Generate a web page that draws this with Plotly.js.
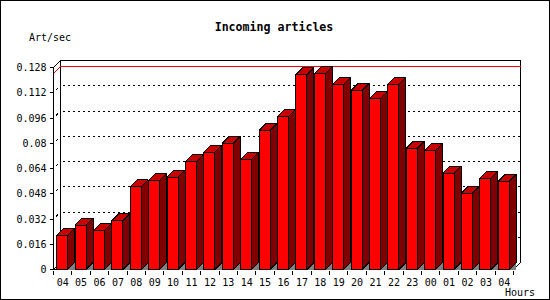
<!DOCTYPE html>
<html>
<head>
<meta charset="utf-8">
<script src="https://cdn.plot.ly/plotly-3.0.1.min.js"></script>
<style>
  html, body { margin: 0; padding: 0; background: #ffffff; }
  #chart { width: 550px; height: 300px; }
  #chart .scatterlayer path, #chart .shapelayer path { shape-rendering: crispEdges; }
</style>
</head>
<body>
<div id="chart"></div>
<script>
// ---- data ----
const hours = ["04","05","06","07","08","09","10","11","12","13","14","15","16","17","18","19","20","21","22","23","00","01","02","03","04"];
const artPerSec = [0.0215,0.0282,0.0246,0.0309,0.0524,0.0566,0.0585,0.0686,0.0743,0.0800,0.0699,0.0882,0.0971,0.1236,0.1242,0.1175,0.1135,0.1084,0.1175,0.0769,0.0756,0.0611,0.0484,0.0579,0.0560];
const yTickVals = [0,0.016,0.032,0.048,0.064,0.08,0.096,0.112,0.128];
const yTickText = ["0","0.016","0.032","0.048","0.064","0.08","0.096","0.112","0.128"];
const titleText = "Incoming articles";
const yUnitText = "Art/sec";
const xUnitText = "Hours";

// ---- geometry (pixels) ----
const L = 52, T = 59, W = 471, H = 213;
const X0 = 53.5, Y0 = 269.5, CW = 18.4, D = 7;
const yTopVal = yTickVals[yTickVals.length - 1];
const PPU = 202 / yTopVal;
const N = hours.length;
const ddx = D / CW, ddy = D / PPU;
const barOff = 3.2 / CW, barW = 11 / CW;
const xRange = [(L - X0) / CW, (L + W - X0) / CW];
const yRange = [(Y0 - (T + H)) / PPU, (Y0 - T) / PPU];

function addPoly(tr, pts) {
  pts.forEach(p => { tr.x.push(p[0]); tr.y.push(p[1]); });
  tr.x.push(pts[0][0]); tr.y.push(pts[0][1]);
  tr.x.push(null); tr.y.push(null);
}
function addLine(tr, pts) {
  pts.forEach(p => { tr.x.push(p[0]); tr.y.push(p[1]); });
  tr.x.push(null); tr.y.push(null);
}
function mk(fill, lc, lw, dash) {
  const t = {type: 'scatter', mode: 'lines', x: [], y: [], hoverinfo: 'skip', showlegend: false,
    line: {color: lc, width: lw, dash: dash || 'solid'}};
  if (fill) { t.fill = 'toself'; t.fillcolor = fill; }
  return t;
}

const frameTr = mk(null, '#000000', 1);
addLine(frameTr, [[ddx, ddy], [ddx, yTopVal + ddy], [N + ddx, yTopVal + ddy], [N + ddx, ddy], [N, 0], [0, 0], [0, yTopVal], [ddx, yTopVal + ddy]]);
addLine(frameTr, [[0, 0], [ddx, ddy]]);

const gridTr = mk(null, '#000000', 1, '2px,3px');
const marksTr = mk(null, '#000000', 1);
yTickVals.forEach(v => {
  if (v > 0 && v < yTopVal) {
    addLine(gridTr, [[ddx + 2.5 / CW, v + ddy], [N + ddx, v + ddy]]);
    addLine(marksTr, [[2.5 / CW, v + 2.5 / PPU], [4.5 / CW, v + 4.5 / PPU]]);
  }
});

const maxVal = Math.max(...artPerSec);
const maxTr = mk(null, '#ff0000', 1);
addLine(maxTr, [[0, maxVal], [ddx, maxVal + ddy], [N + ddx, maxVal + ddy]]);

const floorTr = mk('#808080', 'rgba(0,0,0,0)', 0);
const sideTr = mk('#800000', '#000000', 1);
const frontTr = mk('#ff0000', '#000000', 1);
const topTr = mk('#c80000', '#000000', 1);
artPerSec.forEach((v, i) => {
  const xl = i + barOff, xr = i + barOff + barW;
  addPoly(floorTr, [[xr, 0], [xr + ddx, ddy], [xr + ddx, 0]]);
  addPoly(sideTr, [[xr, 0], [xr, v], [xr + ddx, v + ddy], [xr + ddx, ddy]]);
  addPoly(frontTr, [[xl, 0], [xr, 0], [xr, v], [xl, v]]);
  addPoly(topTr, [[xl, v], [xr, v], [xr + ddx, v + ddy], [xl + ddx, v + ddy]]);
});

const font = {family: 'DejaVu Sans Mono', size: 10, color: '#000000'};
const layout = {
  width: 550, height: 300,
  margin: {l: L, r: 550 - L - W, t: T, b: 300 - T - H, pad: 0},
  paper_bgcolor: '#ffffff', plot_bgcolor: 'rgba(0,0,0,0)',
  title: {text: titleText, font: {family: 'DejaVu Sans Mono', size: 11.6, color: '#000000', weight: 'bold'},
    x: 274 / 550, xref: 'container', xanchor: 'center', y: 1 - 26.7 / 300, yref: 'container', yanchor: 'middle'},
  xaxis: {range: xRange, anchor: 'free', position: (T + H - Y0) / H,
    tickmode: 'array', tickvals: hours.map((_, i) => i + 0.5), ticktext: hours,
    ticks: 'outside', ticklen: 3, tickcolor: 'rgba(0,0,0,0)',
    minor: {tickmode: 'array', tickvals: hours.map((_, i) => i).concat([N]), ticks: 'outside', ticklen: 4, tickcolor: '#000000', tickwidth: 1, showgrid: false},
    showgrid: false, zeroline: false, showline: false, tickfont: font, fixedrange: true},
  yaxis: {range: yRange, anchor: 'free', position: (X0 - L) / W,
    tickmode: 'array', tickvals: yTickVals, ticktext: yTickText,
    ticks: 'outside', ticklen: 4, tickcolor: '#000000', tickwidth: 1, ticklabelstandoff: 1,
    showgrid: false, zeroline: false, showline: false, tickfont: font, fixedrange: true},
  annotations: [
    {text: yUnitText, xref: 'paper', yref: 'paper', x: (50 - L) / W, y: (T + H - 37) / H, xanchor: 'center', yanchor: 'middle', showarrow: false, font: font},
    {text: xUnitText, xref: 'paper', yref: 'paper', x: (520 - L) / W, y: (T + H - 292.5) / H, xanchor: 'center', yanchor: 'middle', showarrow: false, font: font}
  ],
  shapes: [
    {type: 'rect', xref: 'paper', yref: 'paper', x0: (0.5 - L) / W, x1: (549.5 - L) / W, y0: (T + H - 299.5) / H, y1: (T + H - 0.5) / H,
      line: {color: '#000000', width: 1}, fillcolor: 'rgba(0,0,0,0)', layer: 'above'}
  ]
};

Plotly.newPlot('chart', [frameTr, gridTr, marksTr, maxTr, floorTr, sideTr, frontTr, topTr], layout, {staticPlot: true, displayModeBar: false});
</script>
</body>
</html>
